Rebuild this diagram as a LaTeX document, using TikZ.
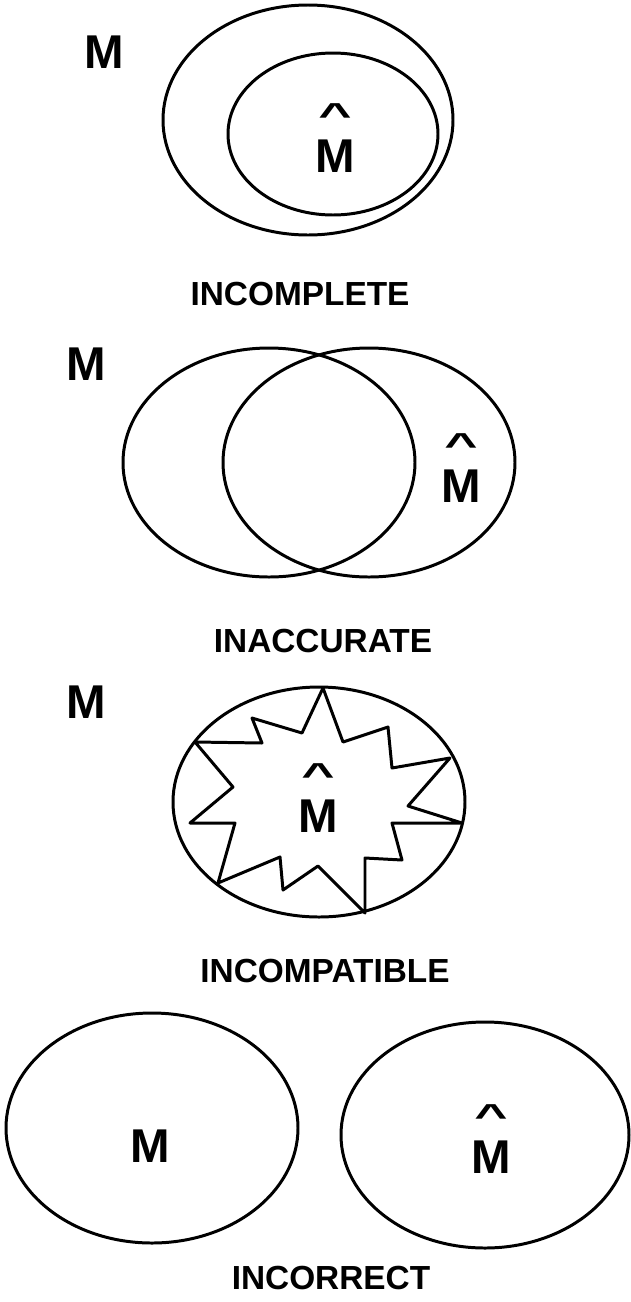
\documentclass[tikz,border=0pt]{standalone}
\usepackage{fontspec}
\setmainfont{Liberation Sans}
\usepackage{graphicx}
\usetikzlibrary{calc}

\begin{document}
\begin{tikzpicture}[
    x=0.02cm, y=-0.02cm,
    set/.style={line width=1.7pt},
    mname/.style={font=\fontsize{27}{27}\selectfont\bfseries, inner sep=0pt, anchor=base},
    hatmk/.style={font=\fontsize{27}{27}\selectfont\bfseries, inner sep=0pt, anchor=base},
    title/.style={font=\fontsize{19}{20}\selectfont\bfseries, inner sep=0pt, anchor=base}
]
\def\hh{\scalebox{1.2}[0.7]{\textasciicircum}}
\useasboundingbox (0,0) rectangle (631,1302);
\draw[set] (308,120) ellipse [x radius=145, y radius=115];
\draw[set] (333,134) ellipse [x radius=105, y radius=81];
\node[mname] (m1) at (104.5,68) {M};
\node[mname] (mh1) at (335,172) {M};
\node[hatmk] (h1) at ($(mh1.base)+(0,-46)$) {\hh};
\node[title] (t1) at (300,305) {INCOMPLETE};
\draw[set] (269,462.5) ellipse [x radius=146, y radius=114.5];
\draw[set] (369,462.5) ellipse [x radius=146, y radius=114.5];
\node[mname] (m2) at (86,380) {M};
\node[mname] (mh2) at (461,502) {M};
\node[hatmk] (h2) at ($(mh2.base)+(0,-46)$) {\hh};
\node[title] (t2) at (323,652) {INACCURATE};
\draw[set] (319,802) ellipse [x radius=146, y radius=115];
\draw[set, line join=round] (323,688) -- (343,742) -- (388,727) -- (392,768) -- (450,758) -- (408,806)
  -- (462,823) -- (392,823) -- (402,860) -- (365,858) -- (365,913) -- (318,866)
  -- (283,890) -- (280,857) -- (218,883) -- (235,823) -- (190,823) -- (233,787)
  -- (195,742) -- (262,743) -- (252,718) -- (302,733) -- cycle;
\node[mname] (m3) at (86,718) {M};
\node[mname] (mh3) at (318,832) {M};
\node[hatmk] (h3) at ($(mh3.base)+(0,-46)$) {\hh};
\node[title] (t3) at (325,982) {INCOMPATIBLE};
\draw[set] (152,1128) ellipse [x radius=146, y radius=115];
\draw[set] (485,1135) ellipse [x radius=144, y radius=113];
\node[mname] (m4) at (150,1162) {M};
\node[mname] (mh4) at (491,1173) {M};
\node[hatmk] (h4) at ($(mh4.base)+(0,-46)$) {\hh};
\node[title] (t4) at (331,1289) {INCORRECT};
\end{tikzpicture}
\end{document}
